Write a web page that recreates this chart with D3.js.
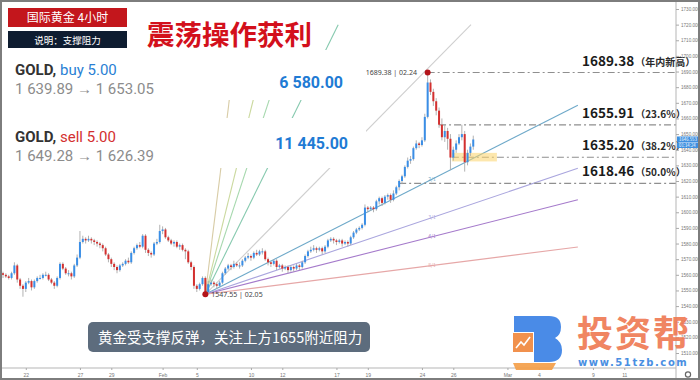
<!DOCTYPE html>
<html>
<head>
<meta charset="utf-8">
<script src="https://cdn.jsdelivr.net/npm/d3@7"></script>
<style>
  body { margin: 0; background: #fff; }
  svg { display: block; font-family: "Noto Sans CJK SC", "Noto Sans", sans-serif; }
</style>
</head>
<body>
<div id="chart"></div>
<script>
// Define SVG area size
var svgWidth = 700;
var svgHeight = 380;

// price scale sits on the right, time scale at the bottom
var axisX = 676;
var axisY = 368;

// 4h candles: open of the first bar, then the close of every bar
var closes = [1561,
  1560,1559,1558,1561,1566,1557,1553,1551,1555,1556,
  1552,1556,1558,1558,1560,1560,1557,1555,1553,1558,
  1567,1564,1561,1561,1559,1566,1571,1581,1583,1582,
  1583,1582,1581,1580,1579,1577,1573,1570,1567,1565,
  1563,1566,1567,1569,1568,1574,1577,1579,1578,1585,
  1576,1574,1573,1580,1581,1588,1589,1584,1582,1580,
  1581,1578,1579,1576,1575,1568,1565,1553,1551,1554,
  1558,1549,1554,1555,1554,1553,1555,1561,1564,1566,
  1565,1567,1566,1566,1569,1571,1572,1571,1574,1573,
  1575,1575,1570,1568,1567,1569,1565,1566,1564,1565,
  1563,1565,1564,1566,1565,1568,1572,1575,1576,1577,
  1576,1577,1575,1578,1582,1583,1582,1581,1582,1580,
  1581,1580,1584,1587,1589,1590,1592,1603,1602,1603,
  1602,1607,1609,1606,1610,1611,1608,1612,1616,1620,
  1623,1629,1633,1634,1641,1644,1643,1646,1661,1683,
  1677,1671,1665,1656,1648,1652,1647,1635,1640,1644,
  1648,1650,1632,1638,1642,1646.55];

var highs = [
  1562,1561,1560,1562,1568,1567,1558,1554,1556,1558,
  1557,1557,1559,1560,1561,1562,1561,1558,1556,1559,
  1568,1568,1565,1563,1562,1567,1573,1588,1585,1584,
  1585,1584,1583,1582,1581,1580,1578,1574,1571,1568,
  1566,1567,1568,1570,1571,1575,1578,1580,1581,1586,
  1586,1577,1575,1581,1583,1592,1591,1590,1585,1583,
  1582,1582,1580,1580,1577,1576,1569,1566,1554,1555,
  1559,1559,1556,1557,1556,1555,1556,1562,1565,1567,
  1567,1569,1568,1568,1570,1572,1574,1573,1575,1576,
  1576,1577,1576,1571,1569,1570,1570,1567,1567,1566,
  1566,1566,1566,1567,1567,1569,1573,1576,1578,1579,
  1578,1578,1578,1579,1583,1584,1584,1583,1583,1583,
  1582,1582,1585,1588,1590,1591,1593,1605,1604,1604,
  1604,1608,1610,1610,1611,1612,1612,1614,1617,1621,
  1624,1630,1635,1636,1642,1646,1645,1648,1663,1689.38,
  1685,1679,1673,1667,1660,1656,1654,1650,1642,1646,
  1650,1656,1652,1640,1644,1649];

var lows = [
  1558,1558,1557,1557,1560,1555,1551,1546,1549,1554,
  1550,1551,1555,1557,1557,1559,1556,1554,1551,1552,
  1557,1563,1560,1559,1557,1558,1565,1570,1580,1580,
  1581,1580,1579,1578,1577,1575,1572,1568,1565,1563,
  1561,1562,1565,1566,1567,1567,1573,1576,1577,1577,
  1574,1572,1571,1572,1579,1580,1586,1583,1581,1579,
  1578,1577,1576,1575,1570,1567,1563,1551,1549,1550,
  1553,1547.55,1548,1553,1552,1551,1552,1554,1560,1563,
  1563,1564,1565,1564,1565,1568,1570,1569,1570,1572,
  1572,1573,1569,1566,1565,1566,1563,1564,1562,1563,
  1561,1562,1562,1563,1563,1564,1567,1571,1574,1575,
  1574,1575,1573,1574,1577,1581,1580,1579,1580,1578,
  1579,1578,1579,1583,1586,1588,1589,1591,1600,1601,
  1600,1601,1605,1604,1605,1608,1606,1607,1611,1614,
  1618,1622,1628,1631,1633,1640,1641,1642,1645,1660,
  1675,1668,1662,1654,1646,1645,1640,1627,1633,1638,
  1643,1646,1626,1630,1636,1640];

// time axis labels and the bar they sit under
var dateLabels = ["22", "27", "29", "Feb", "5", "10", "12", "17", "19", "24", "26", "Mar", "4", "9", "11"];
var dateBars = [8, 27, 38, 56, 68, 87, 98, 117, 128, 147, 158, 177, 188, 207, 218];

// price scale ticks
var priceTicks = d3.range(1510, 1731, 10);
var lastPrice = 1646.553;
var countdown = "01:14:24";

// fibonacci levels drawn from the 02.24 high
var fibPrices = [1689.38, 1655.91, 1635.20, 1618.46];
var fibTags = ["（年内新高）", "（23.6%）", "（38.2%）", "（50.0%）"];
var fibStartBars = [149, 153, 157.5, 139];

// gann fan from the 02.05 low
var fanOriginBar = 71;
var fanOriginPrice = 1547.55;
var fanRatios = [8, 4, 3, 2, 1, 1 / 2, 1 / 3, 1 / 4, 1 / 8];
var fanNames = ["", "", "", "", "", "2/1", "3/1", "4/1", "8/1"];
var fanColors = ["#d8cca6", "#cbd99f", "#a6d8ae", "#86c9ae", "#cfcfcf", "#6ea9c9", "#aaa6de", "#a57acb", "#e6a7a7"];
var fanUnit = 1.85;      // price per bar on the 1x1 line
var fanEndBar = 201.7;
var fanTopPrice = 1720;

// Create an SVG wrapper
var svg = d3.select("#chart")
  .append("svg")
  .attr("width", svgWidth)
  .attr("height", svgHeight);

// scales: bar index -> x, price -> y
var x = d3.scaleLinear().domain([0, 165]).range([3, 473.25]);
var y = d3.scaleLinear().domain([1510, 1730]).range([353, 9]);

// build candle objects
var candles = highs.map(function(h, i) {
  return { i: i, open: closes[i], close: closes[i + 1], high: h, low: lows[i] };
});

// ---- gann fan ----
var fanGroup = svg.append("g");
fanRatios.forEach(function(r, k) {
  var s = r * fanUnit;
  var endBar = Math.min(fanEndBar, fanOriginBar + (fanTopPrice - fanOriginPrice) / s);
  fanGroup.append("line")
    .attr("x1", x(fanOriginBar))
    .attr("y1", y(fanOriginPrice))
    .attr("x2", x(endBar))
    .attr("y2", y(fanOriginPrice + s * (endBar - fanOriginBar)))
    .attr("stroke", fanColors[k])
    .attr("stroke-width", 1.1);
  if (fanNames[k]) {
    var lb = 150.5;
    fanGroup.append("text")
      .attr("x", x(lb))
      .attr("y", y(fanOriginPrice + s * (lb - fanOriginBar)) + 1.5)
      .attr("font-size", 5)
      .attr("text-anchor", "middle")
      .attr("fill", fanColors[k])
      .text(fanNames[k]);
  }
});

// white backing of the position labels hides the fan behind them
svg.append("rect").attr("x", 4).attr("y", 50).attr("width", 346).attr("height", 50).attr("fill", "#fff");
svg.append("rect").attr("x", 4).attr("y", 118).attr("width", 362).attr("height", 50).attr("fill", "#fff");
svg.append("rect").attr("x", 140).attr("y", 14).attr("width", 184).attr("height", 36).attr("fill", "#fff");

// ---- fibonacci levels ----
var fibGroup = svg.append("g");
fibPrices.forEach(function(p, k) {
  fibGroup.append("line")
    .attr("x1", x(fibStartBars[k]))
    .attr("x2", axisX)
    .attr("y1", y(p))
    .attr("y2", y(p))
    .attr("stroke", "#8f8f8f")
    .attr("stroke-width", 1.2)
    .attr("stroke-dasharray", "7,3,2,3");
});

// yellow support zone
svg.append("rect")
  .attr("x", x(157.5))
  .attr("y", y(1638))
  .attr("width", 45)
  .attr("height", y(1632.5) - y(1638))
  .attr("fill", "#fbd46a")
  .attr("opacity", 0.55);

// ---- candles ----
var candleGroup = svg.append("g");
candleGroup.selectAll(".wick")
  .data(candles)
  .enter()
  .append("line")
  .attr("x1", d => x(d.i))
  .attr("x2", d => x(d.i))
  .attr("y1", d => y(d.high))
  .attr("y2", d => y(d.low))
  .attr("stroke", "#a9a9a9")
  .attr("stroke-width", 0.9);

candleGroup.selectAll(".body")
  .data(candles)
  .enter()
  .append("rect")
  .attr("x", d => x(d.i) - 1)
  .attr("width", 2)
  .attr("y", d => y(Math.max(d.open, d.close)))
  .attr("height", d => Math.max(1, Math.abs(y(d.open) - y(d.close))))
  .attr("fill", d => d.close >= d.open ? "#3a8ee6" : "#d3302f");

// high / low markers
var marks = [
  { bar: 149, price: 1689.38, text: "1689.38 | 02.24", dx: -62, dy: 2.5 },
  { bar: 71, price: 1547.55, text: "1547.55 | 02.05", dx: 6, dy: 3 }
];
marks.forEach(function(m) {
  svg.append("text")
    .attr("x", x(m.bar) + m.dx)
    .attr("y", y(m.price) + m.dy)
    .attr("font-family", "'Noto Sans', sans-serif")
    .attr("font-size", 7)
    .attr("fill", "#444")
    .text(m.text);
  svg.append("circle")
    .attr("cx", x(m.bar))
    .attr("cy", y(m.price))
    .attr("r", 3)
    .attr("fill", "#b3141a");
});

// fib level labels
fibPrices.forEach(function(p, k) {
  var t = svg.append("text")
    .attr("x", 582)
    .attr("y", y(p) - 7)
    .attr("fill", "#1b1b1b")
    .attr("font-weight", "bold");
  t.append("tspan")
    .attr("font-size", 13.5)
    .text(p.toFixed(2));
  t.append("tspan")
    .attr("font-size", 10)
    .attr("fill", "#2a2a2a")
    .attr("dx", 1)
    .text(fibTags[k]);
});

// ---- price axis ----
svg.append("line")
  .attr("x1", axisX).attr("x2", axisX)
  .attr("y1", 0).attr("y2", svgHeight)
  .attr("stroke", "#b5b5b5");

var rightAxis = d3.axisRight(y)
  .tickValues(priceTicks)
  .tickSize(3)
  .tickFormat(d3.format(".3f"));

var yAxis = svg.append("g")
  .attr("transform", `translate(${axisX}, 0)`)
  .call(rightAxis);
yAxis.select(".domain").remove();
yAxis.selectAll("line").attr("stroke", "#aaa");
yAxis.selectAll("text")
  .attr("font-size", 4.6)
  .attr("x", 5)
  .attr("fill", "#777");

// last price tags
svg.append("rect").attr("x", axisX + 1).attr("y", y(lastPrice) - 3).attr("width", 21).attr("height", 5.5).attr("fill", "#3d8fe0");
svg.append("rect").attr("x", axisX + 1).attr("y", y(lastPrice) + 3).attr("width", 21).attr("height", 5.5).attr("fill", "#3d8fe0");
svg.append("text").attr("x", axisX + 3).attr("y", y(lastPrice) + 1.5).attr("font-size", 4.3).attr("fill", "#fff").text(lastPrice.toFixed(3));
svg.append("text").attr("x", axisX + 3).attr("y", y(lastPrice) + 7.5).attr("font-size", 4.3).attr("fill", "#fff").text(countdown);

// ---- time axis ----
svg.append("line")
  .attr("x1", 0).attr("x2", axisX)
  .attr("y1", axisY).attr("y2", axisY)
  .attr("stroke", "#b5b5b5");

var bottomAxis = d3.axisBottom(x)
  .tickValues(dateBars)
  .tickSize(2)
  .tickFormat((d, i) => dateLabels[i]);

var xAxis = svg.append("g")
  .attr("transform", `translate(0, ${axisY})`)
  .call(bottomAxis);
xAxis.select(".domain").remove();
xAxis.selectAll("line").attr("stroke", "#aaa");
xAxis.selectAll("text")
  .attr("font-size", 5)
  .attr("y", 5)
  .attr("fill", "#777");

// gear in the corner
svg.append("circle").attr("cx", 688).attr("cy", 374.5).attr("r", 2.6)
  .attr("fill", "none").attr("stroke", "#666").attr("stroke-width", 1.2);

// ---- header boxes ----
svg.append("rect").attr("x", 8).attr("y", 8).attr("width", 119).attr("height", 19).attr("fill", "#c3161c");
svg.append("text").attr("x", 67.5).attr("y", 22).attr("text-anchor", "middle")
  .attr("font-size", 12).attr("fill", "#fff").text("国际黄金 4小时");
svg.append("rect").attr("x", 8).attr("y", 31).attr("width", 119).attr("height", 17).attr("fill", "#0e1c30");
svg.append("text").attr("x", 67.5).attr("y", 43.5).attr("text-anchor", "middle")
  .attr("font-size", 9.5).attr("fill", "#fff").text("说明：支撑阻力");

svg.append("text").attr("x", 147).attr("y", 45)
  .attr("font-size", 27.5).attr("font-weight", "bold").attr("fill", "#d3101c")
  .text("震荡操作获利");

// ---- position labels ----
var positions = [
  { side: "buy 5.00", color: "#2a7fd4", range: "1 639.89 → 1 653.05", profit: "6 580.00", top: 75, px: 343, py: 88 },
  { side: "sell 5.00", color: "#d32f2f", range: "1 649.28 → 1 626.39", profit: "11 445.00", top: 142, px: 348, py: 149 }
];
positions.forEach(function(p) {
  var t = svg.append("text")
    .attr("x", 15)
    .attr("y", p.top)
    .attr("font-family", "Roboto, sans-serif")
    .attr("font-size", 15);
  t.append("tspan").attr("font-weight", "bold").attr("fill", "#333").text("GOLD,");
  t.append("tspan").attr("fill", p.color).text(" " + p.side);
  svg.append("text")
    .attr("x", 15)
    .attr("y", p.top + 19)
    .attr("font-family", "Roboto, sans-serif")
    .attr("font-size", 15)
    .attr("fill", "#8c8c8c")
    .text(p.range);
  svg.append("text")
    .attr("x", p.px)
    .attr("y", p.py)
    .attr("text-anchor", "end")
    .attr("font-family", "Roboto, sans-serif")
    .attr("font-size", 16)
    .attr("font-weight", "bold")
    .attr("fill", "#1f7bd4")
    .text(p.profit);
});

// ---- comment box ----
svg.append("rect").attr("x", 88).attr("y", 322).attr("width", 282).attr("height", 30).attr("rx", 5)
  .attr("fill", "#5d6c7d");
svg.append("text").attr("x", 98).attr("y", 343)
  .attr("font-size", 14.5).attr("fill", "#fff")
  .text("黄金受支撑反弹，关注上方1655附近阻力");

// ---- watermark ----
var logo = svg.append("g").attr("opacity", 0.92);
logo.append("path")
  .attr("d", "M514,316 L549,316 Q561,316 561,327 Q561,335 555,338 Q562,342 562,350 Q562,362 549,362 L534,362 L534,332 L514,332 Z")
  .attr("fill", "#3b82e6");
logo.append("rect").attr("x", 513).attr("y", 333).attr("width", 20).attr("height", 19).attr("fill", "#f0883e");
logo.append("polyline")
  .attr("points", "516,348 521,342 524,345 530,337")
  .attr("fill", "none").attr("stroke", "#fff").attr("stroke-width", 1.6);
logo.append("path").attr("d", "M513,363 L556,363 L552,370 L516,370 Z").attr("fill", "#f5a04a");
logo.append("text").attr("x", 577).attr("y", 347)
  .attr("font-size", 36).attr("font-weight", "bold").attr("letter-spacing", 2)
  .attr("fill", "#ef7b55").text("投资帮");
logo.append("text").attr("x", 578).attr("y", 366)
  .attr("font-family", "'DejaVu Sans', sans-serif")
  .attr("font-size", 10).attr("font-weight", "bold").attr("letter-spacing", 1.6)
  .attr("fill", "#3a86e0").text("www.51tzb.com");

// outer frame
svg.append("rect").attr("x", 1).attr("y", 1).attr("width", 698).attr("height", 378)
  .attr("fill", "none").attr("stroke", "#7d7d7d").attr("stroke-width", 2);
</script>
</body>
</html>
